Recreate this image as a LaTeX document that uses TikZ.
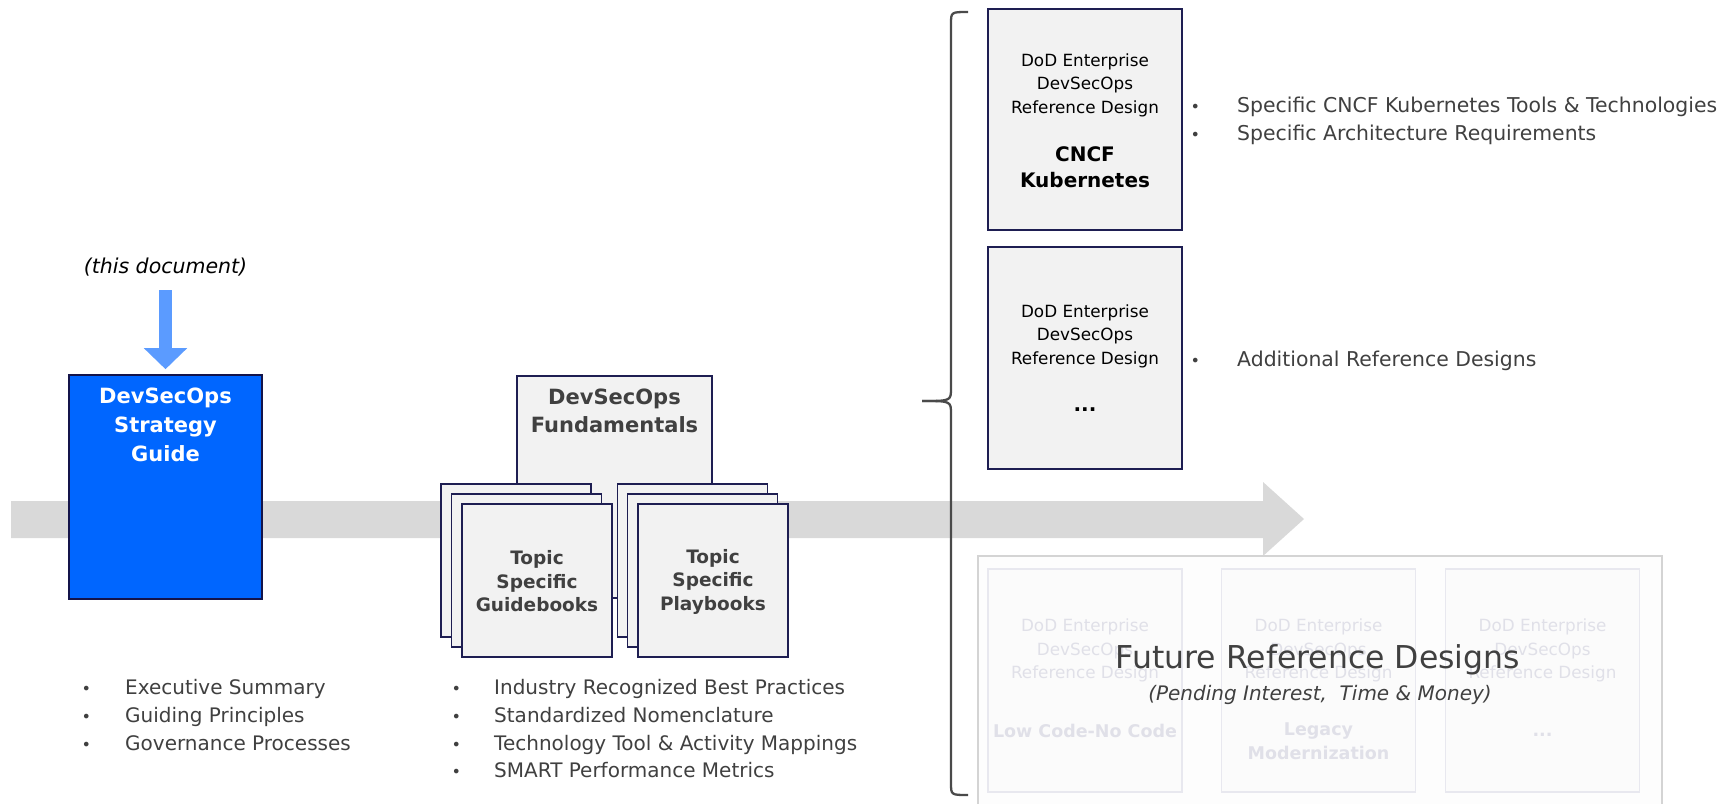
\documentclass[tikz,border=0pt]{standalone}
\usepackage{fontspec}
\setmainfont{DejaVu Sans}
\usetikzlibrary{arrows.meta}
\definecolor{txtgray}{HTML}{404040}
\definecolor{navyline}{HTML}{1E1E52}
\definecolor{boxfill}{HTML}{F2F2F2}
\definecolor{bluefill}{HTML}{0066FF}
\definecolor{bluedark}{HTML}{14144A}
\definecolor{lightblue}{HTML}{5B9BFF}
\definecolor{band}{HTML}{D9D9D9}
\definecolor{bracecol}{HTML}{4A4A4A}
\definecolor{outerline}{HTML}{D4D4D4}
\definecolor{outerfill}{HTML}{FDFDFD}
\definecolor{ghostline}{HTML}{E8E8EF}
\definecolor{ghostfill}{HTML}{FBFBFB}
\definecolor{ghosttxt}{HTML}{E0E0E8}
\newcommand\myfs[2]{\fontsize{#1pt}{#2pt}\selectfont}
\newcommand\mybul[1]{\makebox[#1pt][l]{\myfs{16}{16}•}}
\begin{document}
\begin{tikzpicture}[x=1pt,y=-1pt,
  navybox/.style={draw=navyline, line width=1.6pt, fill=boxfill, inner sep=0pt},
  ghostbox/.style={draw=ghostline, line width=1.2pt, fill=ghostfill, inner sep=0pt, minimum width=194pt, minimum height=223pt},
  plain/.style={inner sep=0pt, align=center},
  bulletlist/.style={inner sep=0pt, align=left, anchor=north west, text=txtgray, font=\myfs{20}{27.8}},
  sheet/.style={navybox, minimum width=150pt, minimum height=153pt}]
\useasboundingbox (0,0) rectangle (1736,803);
\fill[white] (0,0) rectangle (1736,803);

% timeline arrow
\fill[band] (11,501) -- (1263,501) -- (1263,482) -- (1304,519) -- (1263,556) -- (1263,538) -- (11,538) -- cycle;

% strategy guide
\node[navybox, fill=bluefill, draw=bluedark, minimum width=193pt, minimum height=224pt] (guide) at (165.5,487) {};
\node[plain, text=white, font=\myfs{21}{28.8}\bfseries] (guidetxt) at (165.5,425) {DevSecOps\\Strategy\\Guide};
\node[plain, font=\myfs{20.5}{24}\itshape] (doc) at (165.5,267) {(this document)};
\draw[lightblue, line width=13pt, -{Triangle[width=42pt,length=21pt]}, shorten <=14pt, shorten >=5pt] (doc.south) -- (guide.north);

% fundamentals
\node[navybox, minimum width=195pt, minimum height=222pt] (fund) at (614.5,487) {};
\node[plain, text=txtgray, font=\myfs{21}{27.5}\bfseries] (fundtxt) at (614.5,411) {DevSecOps\\Fundamentals};

% guidebooks stack
\node[sheet] (g1) at (516,560.5) {};
\node[sheet] (g2) at (526.5,570.5) {};
\node[sheet] (g3) at (537,580.5) {};
\node[plain, text=txtgray, font=\myfs{18.5}{23.5}\bfseries] (gtxt) at (537,581.5) {Topic\\Specific\\Guidebooks};
% playbooks stack
\node[sheet] (p1) at (692.5,560.5) {};
\node[sheet] (p2) at (702.5,570.5) {};
\node[sheet] (p3) at (713,580.5) {};
\node[plain, text=txtgray, font=\myfs{18.5}{23.5}\bfseries] (ptxt) at (713,581.5) {Topic\\Specific\\Playbooks};

% bullet lists bottom
\node[bulletlist] (leftlist) at (81.3,679) {\mybul{43.7}Executive Summary\\\mybul{43.7}Guiding Principles\\\mybul{43.7}Governance Processes};
\node[bulletlist] (midlist) at (451.3,679) {\mybul{42.7}Industry Recognized Best Practices\\\mybul{42.7}Standardized Nomenclature\\\mybul{42.7}Technology Tool \& Activity Mappings\\\mybul{42.7}SMART Performance Metrics};

% brace
\draw[bracecol, line width=2.3pt] (968,12) .. controls (951,12) .. (951,24) -- (951,388) .. controls (951,401) .. (922,401);
\draw[bracecol, line width=2.3pt] (922,401) .. controls (951,401) .. (951,414) -- (951,783) .. controls (951,795) .. (968,795);

% reference design boxes
\node[navybox, minimum width=194pt, minimum height=221pt] (rd1) at (1085,119.5) {};
\node[plain, font=\myfs{16.8}{23.5}] (rd1a) at (1085,85) {DoD Enterprise\\DevSecOps\\Reference Design};
\node[plain, font=\myfs{20}{26}\bfseries] (rd1b) at (1085,167) {CNCF\\Kubernetes};
\node[navybox, minimum width=194pt, minimum height=222pt] (rd2) at (1085,358) {};
\node[plain, font=\myfs{16.8}{23.5}] (rd2a) at (1085,336) {DoD Enterprise\\DevSecOps\\Reference Design};
\node[plain, font=\myfs{20}{26}\bfseries] (rd2b) at (1085,410) {...};

\node[bulletlist, font=\myfs{20.4}{27.5}] (rd1list) at (1190.3,97) {\mybul{46.7}Specific CNCF Kubernetes Tools \& Technologies\\\mybul{46.7}Specific Architecture Requirements};
\node[bulletlist, font=\myfs{20.4}{27.5}] (rd2list) at (1190.3,351) {\mybul{46.7}Additional Reference Designs};

% future reference designs
\node[draw=outerline, fill=outerfill, line width=1.2pt, inner sep=0pt, minimum width=684pt, minimum height=250pt] (future) at (1320,681) {};
\node[ghostbox] (f1) at (1085,680.5) {};
\node[ghostbox] (f2) at (1318.5,680.5) {};
\node[ghostbox] (f3) at (1542.5,680.5) {};
\node[plain, text=ghosttxt, font=\myfs{16.8}{23.5}] (f1a) at (1085,650.5) {DoD Enterprise\\DevSecOps\\Reference Design};
\node[plain, text=ghosttxt, font=\myfs{16.8}{23.5}] (f2a) at (1318.5,650.5) {DoD Enterprise\\DevSecOps\\Reference Design};
\node[plain, text=ghosttxt, font=\myfs{16.8}{23.5}] (f3a) at (1542.5,650.5) {DoD Enterprise\\DevSecOps\\Reference Design};
\node[plain, text=ghosttxt, font=\myfs{17.5}{24}\bfseries] (f1b) at (1085,731) {Low Code-No Code};
\node[plain, text=ghosttxt, font=\myfs{17.5}{24}\bfseries] (f2b) at (1318.5,741) {Legacy\\Modernization};
\node[plain, text=ghosttxt, font=\myfs{17.5}{24}\bfseries] (f3b) at (1542.5,735) {...};
\node[plain, text=txtgray, font=\myfs{31.5}{36}] (ftitle) at (1318,660) {Future Reference Designs};
\node[plain, text=txtgray, font=\myfs{20}{24}\itshape] (fsub) at (1320,695) {(Pending Interest,~ Time \& Money)};
\end{tikzpicture}
\end{document}
